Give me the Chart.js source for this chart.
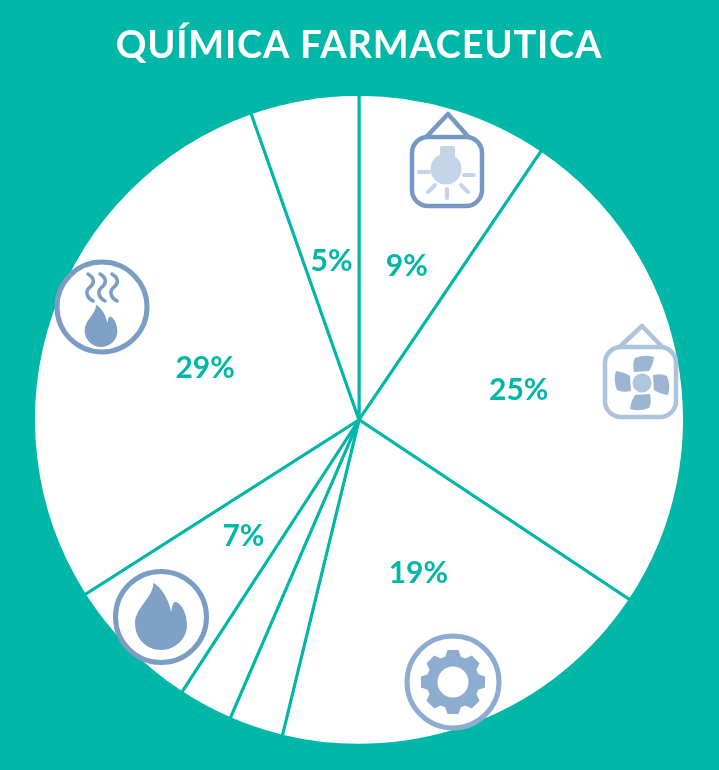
<!DOCTYPE html>
<html>
<head>
<meta charset="utf-8">
<title>Química farmaceutica</title>
<script src="https://cdn.jsdelivr.net/npm/chart.js@4"></script>
<style>
  html, body { margin: 0; padding: 0; background: #00b7a8; }
  canvas { display: block; }
</style>
</head>
<body>
<canvas id="pieChart" width="719" height="770"></canvas>
<script>
const titleText = 'QUÍMICA FARMACEUTICA';
const categories = ['Iluminación', 'Ventilación', 'Motores', 'Otros A', 'Otros B', 'Hornos', 'Calor', 'Otros C'];
const shares = [9.5, 24.9, 19.5, 2.7, 2.7, 6.8, 28.7, 5.4];
const shareLabels = ['9%', '25%', '19%', '', '', '7%', '29%', '5%'];

const TEAL = '#00b7a8';

// title needs a little tracking, the title plugin has no option for it
const titleSpacing = {
  id: 'titleSpacing',
  beforeDraw(chart) {
    chart.ctx.letterSpacing = '0.8px';
  },
  beforeDatasetsDraw(chart) {
    chart.ctx.letterSpacing = '0px';
  }
};

// percent labels sit at the middle of each slice
const sliceLabels = {
  id: 'sliceLabels',
  afterDatasetsDraw(chart) {
    const ctx = chart.ctx;
    ctx.save();
    ctx.font = 'bold 30px Lato';
    ctx.fillStyle = TEAL;
    ctx.textAlign = 'center';
    ctx.textBaseline = 'middle';
    chart.getDatasetMeta(0).data.forEach((arc, i) => {
      const pos = arc.tooltipPosition();
      ctx.fillText(shareLabels[i], pos.x, pos.y + 2);
    });
    ctx.restore();
  }
};

function ring(ctx, x, y, r, width, color) {
  ctx.beginPath();
  ctx.arc(x, y, r, 0, Math.PI * 2);
  ctx.fillStyle = '#fff';
  ctx.fill();
  ctx.lineWidth = width;
  ctx.strokeStyle = color;
  ctx.stroke();
}

function hangingBox(ctx, x, y, w, h, apexX, apexY, color) {
  ctx.strokeStyle = color;
  ctx.lineWidth = 4.5;
  ctx.lineJoin = 'round';
  ctx.beginPath();
  ctx.moveTo(x + w * 0.19, y + 1);
  ctx.lineTo(apexX, apexY);
  ctx.lineTo(x + w * 0.82, y + 1);
  ctx.closePath();
  ctx.stroke();
  ctx.beginPath();
  ctx.roundRect(x, y, w, h, 16);
  ctx.fillStyle = '#fff';
  ctx.fill();
  ctx.stroke();
}

function flame(ctx, x, y, s, color) {
  ctx.save();
  ctx.translate(x, y);
  ctx.scale(s, s);
  ctx.beginPath();
  ctx.moveTo(-8, -40);
  ctx.bezierCurveTo(-6, -28, -26, -15, -26, 0);
  ctx.bezierCurveTo(-26, 16, -14, 27, 0, 27);
  ctx.bezierCurveTo(14, 27, 26, 16, 26, 2);
  ctx.bezierCurveTo(26, -12, 18, -22, 14, -21);
  ctx.bezierCurveTo(11, -20, 11, -14, 10, -11);
  ctx.bezierCurveTo(8, -25, -2, -38, -8, -40);
  ctx.closePath();
  ctx.fillStyle = color;
  ctx.fill();
  ctx.restore();
}

function lampIcon(ctx) {
  const light = '#c5d5e8';
  hangingBox(ctx, 412, 137, 70, 69, 448, 114, '#7699c3');
  ctx.fillStyle = light;
  ctx.beginPath();
  ctx.arc(446, 169, 15.5, 0, Math.PI * 2);
  ctx.fill();
  ctx.beginPath();
  ctx.roundRect(440, 146, 15, 14, 2);
  ctx.fill();
  ctx.strokeStyle = light;
  ctx.lineWidth = 4;
  ctx.lineCap = 'round';
  [[419, 172, 429, 172], [464, 175, 474, 175], [428, 192, 435, 185],
   [447, 189, 447, 198], [461, 185, 468, 192]].forEach(r => {
    ctx.beginPath();
    ctx.moveTo(r[0], r[1]);
    ctx.lineTo(r[2], r[3]);
    ctx.stroke();
  });
  ctx.lineCap = 'butt';
}

function fanIcon(ctx) {
  hangingBox(ctx, 605, 347, 71, 70, 642, 326, '#adc3dc');
  ctx.save();
  ctx.translate(642, 383);
  ctx.fillStyle = '#9bb5d3';
  for (let i = 0; i < 4; i++) {
    ctx.beginPath();
    ctx.moveTo(-8, -11);
    ctx.quadraticCurveTo(-10, -20, -7, -25);
    ctx.quadraticCurveTo(3, -29, 12, -26);
    ctx.quadraticCurveTo(11, -18, 7, -12);
    ctx.closePath();
    ctx.fill();
    ctx.rotate(Math.PI / 2);
  }
  ctx.restore();
  ctx.beginPath();
  ctx.arc(642, 383, 9.5, 0, Math.PI * 2);
  ctx.fillStyle = '#aec5de';
  ctx.fill();
}

function gearIcon(ctx) {
  const color = '#8dadd0';
  const cx = 453, cy = 682;
  ring(ctx, cx, cy, 46, 5, color);
  ctx.fillStyle = color;
  ctx.beginPath();
  for (let i = 0; i < 8; i++) {
    const a = i * Math.PI / 4 - Math.PI / 2;
    const pts = [[26.5, -0.3], [32.5, -0.17], [32.5, 0.17], [26.5, 0.3]];
    pts.forEach(p => {
      const x = cx + p[0] * Math.cos(a + p[1]);
      const y = cy + p[0] * Math.sin(a + p[1]);
      if (i === 0 && p === pts[0]) ctx.moveTo(x, y);
      else ctx.lineTo(x, y);
    });
  }
  ctx.closePath();
  ctx.fill();
  ctx.beginPath();
  ctx.arc(cx, cy, 15.5, 0, Math.PI * 2);
  ctx.fillStyle = '#fff';
  ctx.fill();
}

function fireIcon(ctx) {
  ring(ctx, 161, 617, 45.5, 5, '#7a9dc4');
  flame(ctx, 161, 623, 1, '#7fa1c6');
}

function steamIcon(ctx) {
  ring(ctx, 102, 307, 45, 5, '#7a9dc4');
  flame(ctx, 101, 330, 0.63, '#7fa1c6');
  ctx.strokeStyle = '#7a9dc4';
  ctx.lineWidth = 3.5;
  ctx.lineCap = 'round';
  [88, 100, 112].forEach(x => {
    ctx.beginPath();
    ctx.moveTo(x, 274);
    ctx.bezierCurveTo(x + 8, 279, x + 6, 284, x + 1, 288);
    ctx.bezierCurveTo(x - 3, 292, x - 1, 298, x + 5, 301);
    ctx.stroke();
  });
  ctx.lineCap = 'butt';
}

const icons = {
  id: 'icons',
  afterDraw(chart) {
    const ctx = chart.ctx;
    ctx.save();
    lampIcon(ctx);
    fanIcon(ctx);
    gearIcon(ctx);
    fireIcon(ctx);
    steamIcon(ctx);
    ctx.restore();
  }
};

new Chart(document.getElementById('pieChart'), {
  type: 'pie',
  data: {
    labels: categories,
    datasets: [{
      data: shares,
      backgroundColor: '#ffffff',
      borderColor: TEAL,
      borderWidth: 3,
      hoverOffset: 0
    }]
  },
  options: {
    responsive: false,
    animation: false,
    layout: { padding: { left: 32, right: 33, bottom: 22 } },
    plugins: {
      legend: { display: false },
      tooltip: { enabled: false },
      title: {
        display: true,
        text: titleText,
        color: '#ffffff',
        font: { family: 'Lato', size: 38, weight: 'bold' },
        padding: { top: 23, bottom: 23 }
      }
    }
  },
  plugins: [titleSpacing, sliceLabels, icons]
});
</script>
</body>
</html>
